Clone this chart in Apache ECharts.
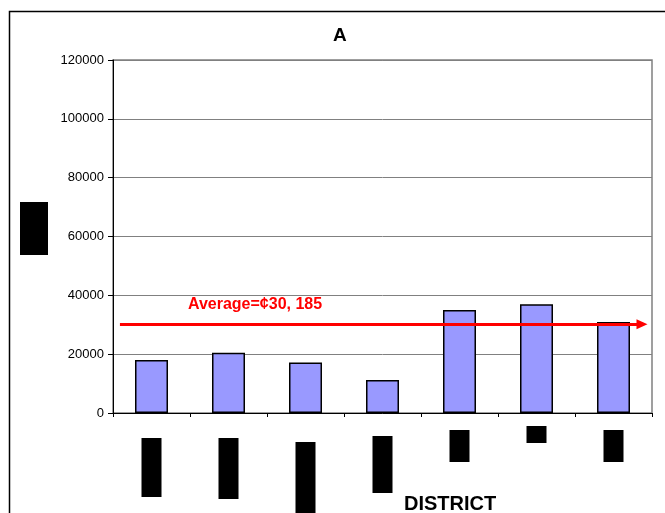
<!DOCTYPE html>
<html>
<head>
<meta charset="utf-8">
<title>A</title>
<script src="https://cdn.jsdelivr.net/npm/echarts@6/dist/echarts.min.js"></script>
<style>
  html, body { margin: 0; padding: 0; background: #fff; }
  #chart { width: 665px; height: 513px; }
</style>
</head>
<body>
<div id="chart"></div>
<script>
// District categories (names are masked in the printed chart)
const districts = ['D1', 'D2', 'D3', 'D4', 'D5', 'D6', 'D7'];
// Amount per district
const amounts = [18000, 20500, 17200, 11200, 35000, 37000, 30900];
// Average across districts, as stated on the chart
const averageValue = 30185;
const averageLabel = 'Average=¢30, 185';
// Value axis ticks
const yMin = 0;
const yMax = 120000;
const yStep = 20000;

// Masking boxes under each category: gap above the box and the box height
const maskGap = [25, 25, 29, 23, 17, 13, 17];
const maskHeight = [59, 61, 71, 57, 32, 17, 32];

const rich = {};
districts.forEach((d, i) => {
  rich['g' + i] = { height: maskGap[i], lineHeight: maskGap[i], width: 20 };
  rich['b' + i] = { height: maskHeight[i], lineHeight: maskHeight[i], width: 20, backgroundColor: '#000', color: '#000' };
});

const FONT = 'Liberation Sans, Arial, sans-serif';
const chart = echarts.init(document.getElementById('chart'), null, { renderer: 'canvas' });

chart.setOption({
  backgroundColor: '#fff',
  animation: false,
  title: [
    { text: 'A', left: 333, top: 26, padding: 0, textStyle: { fontFamily: FONT, fontSize: 19, fontWeight: 'bold', color: '#000' } },
    { text: 'DISTRICT', left: 404, top: 494, padding: 0, textStyle: { fontFamily: FONT, fontSize: 20, fontWeight: 'bold', color: '#000' } }
  ],
  graphic: [
    { type: 'rect', shape: { x: 9.5, y: 11.5, width: 720, height: 620 }, style: { fill: null, stroke: '#000', lineWidth: 1.5 }, silent: true }
  ],
  grid: { left: 113, right: 13, top: 60, bottom: 100, show: true, borderColor: '#808080', borderWidth: 1.5, backgroundColor: 'transparent' },
  xAxis: [
    {
      type: 'category',
      data: districts,
      boundaryGap: true,
      axisLine: { lineStyle: { color: '#000', width: 1 } },
      axisTick: { show: true, length: 4, interval: 0, lineStyle: { color: '#000' } },
      axisLabel: {
        interval: 0,
        margin: 0,
        verticalAlign: 'top',
        formatter: (v, i) => '{g' + i + '| }\n{b' + i + '| }',
        rich: rich
      },
      splitLine: { show: false }
    },
    { type: 'value', min: 0, max: districts.length, show: false }
  ],
  yAxis: {
    type: 'value',
    min: yMin,
    max: yMax,
    interval: yStep,
    name: '{box| }',
    nameLocation: 'middle',
    nameRotate: 0,
    nameGap: 65,
    nameTextStyle: {
      padding: [0, 0, 16, 0],
      rich: { box: { width: 28, height: 53, backgroundColor: '#000', color: '#000' } }
    },
    axisLine: { show: true, lineStyle: { color: '#000', width: 1 } },
    axisTick: { show: true, length: 5, lineStyle: { color: '#000' } },
    axisLabel: { fontFamily: FONT, fontSize: 13, color: '#000', margin: 9, formatter: v => String(v) },
    splitLine: { show: true, lineStyle: { color: '#808080', width: 1 } }
  },
  series: [
    {
      type: 'bar',
      data: amounts,
      barWidth: 33,
      itemStyle: { color: '#9999ff', borderColor: '#000', borderWidth: 1.5 }
    },
    {
      type: 'line',
      xAxisIndex: 1,
      yAxisIndex: 0,
      data: [],
      markLine: {
        silent: true,
        symbol: ['none', 'triangle'],
        symbolSize: [10, 11],
        lineStyle: { color: '#ff0000', width: 3, type: 'solid' },
        label: {
          show: true,
          position: 'insideStartTop',
          distance: [68, 12],
          formatter: averageLabel,
          color: '#ff0000',
          fontFamily: FONT,
          fontSize: 16,
          fontWeight: 'bold'
        },
        data: [[
          { coord: [0.09, averageValue] },
          { coord: [6.87, averageValue] }
        ]]
      }
    }
  ]
});
</script>
</body>
</html>
